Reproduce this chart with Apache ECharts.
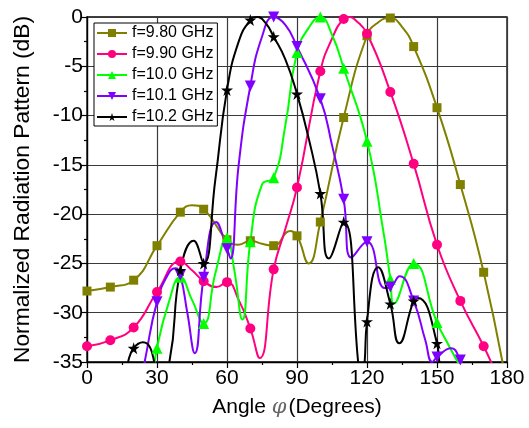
<!DOCTYPE html>
<html>
<head>
<meta charset="utf-8">
<script src="https://cdn.jsdelivr.net/npm/echarts@6/dist/echarts.min.js"></script>
<style>
  html, body { margin: 0; padding: 0; background: #fff; }
  #chart { width: 529px; height: 428px; }
</style>
</head>
<body>
<div id="chart"></div>
<script>
// Marker angles (degrees) and tick values
const angles = [0, 10, 20, 30, 40, 50, 60, 70, 80, 90, 100, 110, 120, 130, 140, 150, 160, 170, 180];
const xTicks = [0, 30, 60, 90, 120, 150, 180];
const yTicks = [-35, -30, -25, -20, -15, -10, -5, 0];

const seriesNames = ['f=9.80 GHz', 'f=9.90 GHz', 'f=10.0 GHz', 'f=10.1 GHz', 'f=10.2 GHz'];

// Values at marker angles (null = outside the visible range)
const f980 = [-27.8, -27.4, -26.7, -23.2, -19.8, -19.5, -22.6, -22.7, -23.2, -22.2, -20.8, -10.2, -1.9, -0.1, -3.0, -9.2, -17.0, -25.9, -37.5];
const f990 = [-33.4, -32.8, -31.5, -27.9, -24.8, -26.8, -26.9, -31.6, -25.6, -17.3, -5.5, -0.2, -1.7, -7.6, -14.9, -23.1, -28.8, -33.4, -39];
const f1000 = [null, null, null, -33.6, -26.4, -31.1, -22.4, -22.8, -16.3, -3.6, 0, -5.2, -12.6, -26.6, -25.0, -31.0, -35.5, null, null];
const f1010 = [null, null, null, -28.9, -26.2, -26.4, -23.5, -7.0, 0, -3.0, -8.3, -18.5, -22.8, -27.4, -28.8, -34.5, -34.8, null, null];
const f1020 = [null, null, -33.6, -38, -25.7, -25.0, -7.4, -0.3, -2.0, -7.8, -17.9, -20.8, -30.9, -29.1, -28.8, -33.1, null, null, null];

// Additional curve readings between markers [angle, dB]
const f980Extra = [[45, -19.1], [65, -23.1], [75, -23.0], [87, -21.7], [95, -25.0], [125, -0.5], [135, -1.0]];
const f990Extra = [[45, -25.7], [55.5, -27.4], [65, -28.7], [74, -34.6], [85, -21.5], [105, -2.2], [112.5, 0], [115, -0.3], [175, -36]];
const f1000Extra = [[28, -37], [35, -29], [45, -28.7], [55, -26], [63, -25.5], [66.6, -30.7], [75, -17.0], [85, -11], [95, -1.1], [105, -1.8], [126.9, -21.6], [131.5, -29.1], [155, -33.3]];
const f1010Extra = [[23, -37], [24.7, -35], [35, -26], [38, -25.5], [43, -30], [46.2, -34.1], [55.3, -20.8], [61.5, -24.5], [65, -15], [75, -2.0], [85, -0.8], [105, -13], [113.3, -24.4], [127.6, -27.5], [134, -26.3], [145, -32.8], [148, -35], [156, -33.6], [162, -36]];
const f1020Extra = [[15, -38], [17.6, -35], [24, -33.0], [28.8, -35], [35.3, -35], [45.7, -22.7], [55, -16.5], [65, -2.5], [73, 0], [76.5, -0.6], [85, -4.3], [95, -12.3], [103.7, -24.5], [116.2, -35], [117.5, -39], [119, -35], [124.8, -25.4], [133.8, -33.1], [141.8, -28.5], [151, -35], [153, -38]];

const colors = ['#808000', '#FF0080', '#00FF00', '#8000FF', '#000000'];
const symbols = [
  'rect',
  'circle',
  'triangle',
  'path://M0,0 L100,0 L50,87 Z',
  'path://M50,0 L61,35 L98,35 L68,57 L79,91 L50,70 L21,91 L32,57 L2,35 L39,35 Z'
];
const symbolSizes = [9, 10, 11, 11, 12];

function build(marks, extras) {
  const pts = [];
  angles.forEach((a, i) => { if (marks[i] !== null) pts.push({ value: [a, marks[i]] }); });
  extras.forEach(p => pts.push({ value: p, symbol: 'none' }));
  pts.sort((p, q) => p.value[0] - q.value[0]);
  return pts;
}

const allMarks = [f980, f990, f1000, f1010, f1020];
const allExtras = [f980Extra, f990Extra, f1000Extra, f1010Extra, f1020Extra];

const chart = echarts.init(document.getElementById('chart'), null, { renderer: 'canvas' });
const font = 'Liberation Sans, Arial, sans-serif';

chart.setOption({
  animation: false,
  backgroundColor: '#fff',
  grid: { left: 87, right: 22, top: 17, bottom: 66, show: true, borderColor: '#000', borderWidth: 1.3, backgroundColor: 'transparent' },
  legend: {
    orient: 'vertical',
    left: 94, top: 23,
    backgroundColor: '#fff',
    borderColor: '#000', borderWidth: 1, borderRadius: 0,
    padding: [2, 4, 1, 2],
    itemWidth: 30, itemHeight: 10, itemGap: 5,
    textStyle: { fontSize: 16, fontFamily: font, color: '#000' },
    data: seriesNames
  },
  xAxis: {
    type: 'value', min: xTicks[0], max: xTicks[xTicks.length - 1], interval: 30,
    name: 'Angle {phi|φ}(Degrees)',
    nameLocation: 'middle', nameGap: 35,
    nameTextStyle: {
      fontSize: 21, fontFamily: font, color: '#000',
      rich: { phi: { fontSize: 21, fontFamily: 'DejaVu Serif', fontStyle: 'italic', color: '#666', padding: [0, 2, 0, 0] } }
    },
    axisLine: { show: true, onZero: false, lineStyle: { color: '#000', width: 1.3 } },
    axisTick: { show: true, inside: false, length: 6, lineStyle: { color: '#000', width: 1.2 } },
    minorTick: { show: true, splitNumber: 2, length: 3, lineStyle: { color: '#000', width: 1.2 } },
    axisLabel: { fontSize: 21, fontFamily: font, color: '#000', margin: 6 },
    splitLine: { show: true, lineStyle: { color: '#3a3a3a', width: 1.2 } }
  },
  yAxis: {
    type: 'value', min: yTicks[0], max: yTicks[yTicks.length - 1], interval: 5,
    name: 'Normalized Radiation Pattern (dB)',
    nameLocation: 'middle', nameGap: 53, nameRotate: 90,
    nameTextStyle: { fontSize: 22.8, fontFamily: font, color: '#000' },
    axisLine: { show: true, onZero: false, lineStyle: { color: '#000', width: 1.3 } },
    axisTick: { show: true, inside: false, length: 6, lineStyle: { color: '#000', width: 1.2 } },
    minorTick: { show: true, splitNumber: 2, length: 3, lineStyle: { color: '#000', width: 1.2 } },
    axisLabel: { fontSize: 21, fontFamily: font, color: '#000', margin: 4 },
    splitLine: { show: true, lineStyle: { color: '#3a3a3a', width: 1.2 } }
  },
  series: seriesNames.map((name, i) => ({
    name: name,
    type: 'line',
    data: build(allMarks[i], allExtras[i]),
    smooth: 0.5,
    clip: true,
    showAllSymbol: true,
    symbol: symbols[i],
    symbolSize: symbolSizes[i],
    color: colors[i],
    itemStyle: { color: colors[i] },
    lineStyle: { color: colors[i], width: 2 }
  }))
});
</script>
</body>
</html>
